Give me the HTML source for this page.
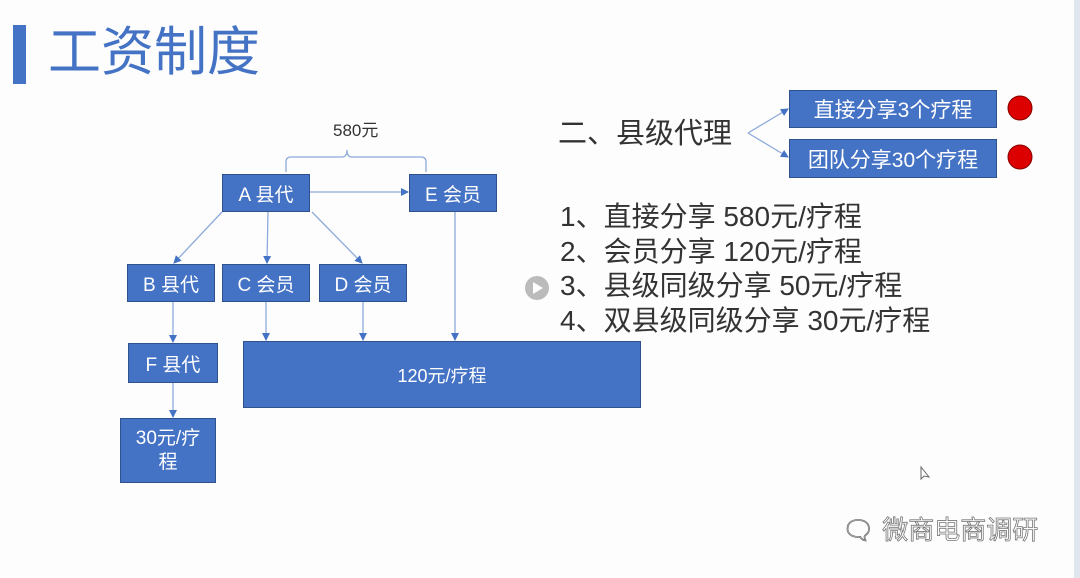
<!DOCTYPE html>
<html><head><meta charset="utf-8"><style>
body{margin:0;width:1080px;height:578px;background:#fdfdfd;position:relative;overflow:hidden;font-family:"Liberation Sans","Noto Sans CJK SC",sans-serif}
.b{position:absolute;background:#4472c4;border:1px solid #2f528f;color:#fff;display:flex;align-items:center;justify-content:center;text-align:center;box-sizing:border-box;font-size:19px}
.t{position:absolute;color:#333;white-space:nowrap}
</style></head><body>
<div style="position:absolute;left:13px;top:25px;width:13px;height:59px;background:#4472c4"></div>
<div class="t" style="left:48px;top:22px;font-size:53px;color:#4472c4;line-height:62px">工资制度</div>
<div class="t" style="left:333px;top:119px;font-size:17px;line-height:24px">580元</div>
<svg style="position:absolute;left:0;top:0" width="1080" height="578">
<defs><marker id="a" markerWidth="8" markerHeight="8" refX="7" refY="4" orient="auto" markerUnits="userSpaceOnUse"><path d="M0,0L8,4L0,8z" fill="#4472c4"/></marker></defs>
<g stroke="#8eaadb" stroke-width="1.3" fill="none">
<path d="M286,172 V162 Q286,157 291,157 H342 Q347,157 347,150 Q347,157 352,157 H421 Q426,157 426,162 V172"/>
<g marker-end="url(#a)">
<line x1="301" y1="192" x2="408" y2="192"/>
<line x1="222" y1="212" x2="174" y2="263"/>
<line x1="268" y1="211" x2="267" y2="263"/>
<line x1="312" y1="212" x2="362" y2="263"/>
<line x1="173" y1="300" x2="173" y2="342"/>
<line x1="173" y1="382" x2="173" y2="417"/>
<line x1="266" y1="300" x2="266" y2="340"/>
<line x1="363" y1="300" x2="363" y2="340"/>
<line x1="455" y1="211" x2="455" y2="340"/>
<line x1="748" y1="133" x2="788" y2="109"/>
<line x1="748" y1="133" x2="788" y2="157"/>
</g></g>
<circle cx="1020" cy="108" r="12" fill="#d00" stroke="#800"/>
<circle cx="1020" cy="157" r="12" fill="#d00" stroke="#800"/>
<circle cx="537" cy="288" r="12" fill="#bbb"/>
<path d="M533,282 L543,288 L533,294z" fill="#fff"/>
<path d="M921,467 L921,479 L924,476 L929,477z" fill="#fff" stroke="#666"/>
<rect x="1074" y="0" width="6" height="578" fill="#dfe6ee"/>
</svg>
<div class="b" style="left:222px;top:174px;width:88px;height:38px">A 县代</div>
<div class="b" style="left:409px;top:174px;width:88px;height:38px">E 会员</div>
<div class="b" style="left:127px;top:264px;width:88px;height:38px">B 县代</div>
<div class="b" style="left:222px;top:264px;width:88px;height:38px">C 会员</div>
<div class="b" style="left:319px;top:264px;width:88px;height:38px">D 会员</div>
<div class="b" style="left:128px;top:343px;width:90px;height:40px">F 县代</div>
<div class="b" style="left:120px;top:418px;width:96px;height:65px;line-height:24px">30元/疗<br>程</div>
<div class="b" style="left:243px;top:341px;width:398px;height:67px;font-size:18px">120元/疗程</div>
<div class="b" style="left:789px;top:90px;width:208px;height:38px;font-size:21px">直接分享3个疗程</div>
<div class="b" style="left:789px;top:139px;width:208px;height:39px;font-size:21px">团队分享30个疗程</div>
<div class="t" style="left:558px;top:114px;font-size:29px;line-height:40px">二、县级代理</div>
<div class="t" style="left:560px;top:200px;font-size:28px;line-height:34.5px">1、直接分享 580元/疗程<br>2、会员分享 120元/疗程<br>3、县级同级分享 50元/疗程<br>4、双县级同级分享 30元/疗程</div>
<div class="t" style="left:842px;top:512px;font-size:26px;color:#fff;-webkit-text-stroke:0.8px #777;line-height:36px">🗨 微商电商调研</div>
</body></html>
